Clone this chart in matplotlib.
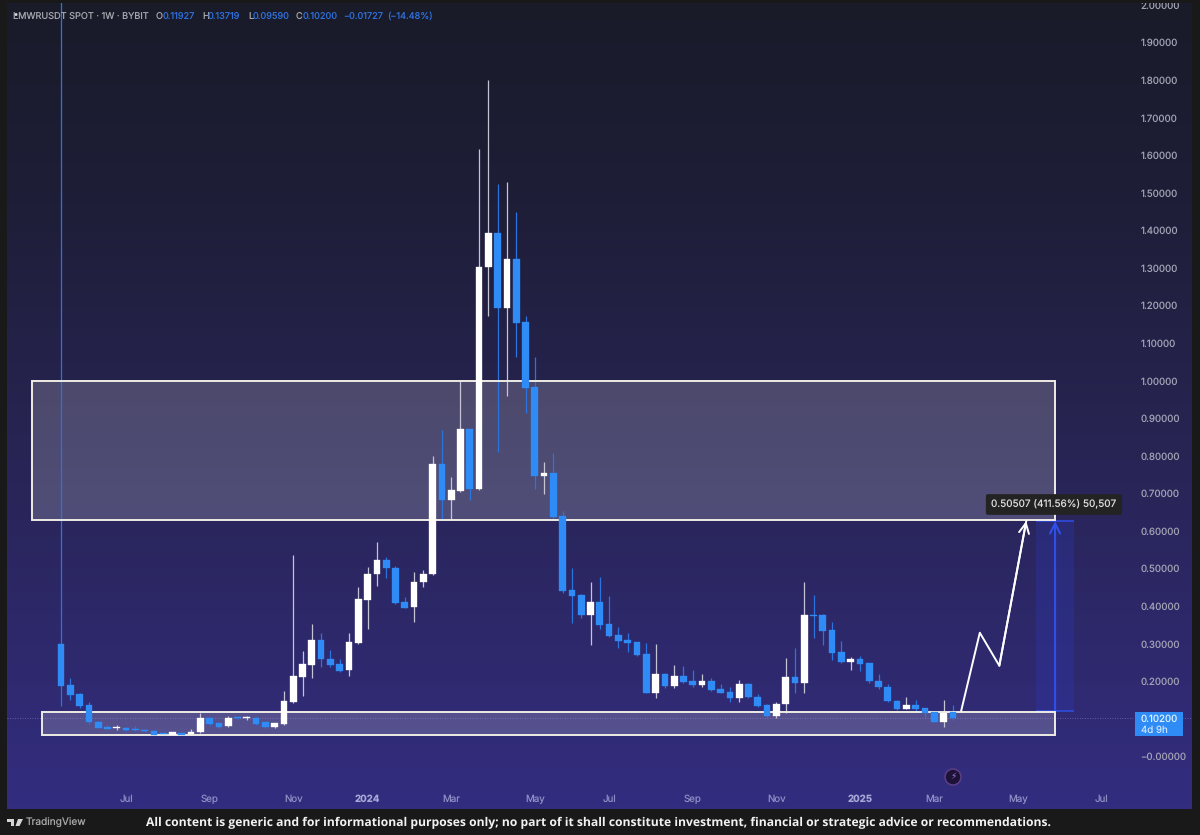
import numpy as np
import matplotlib
matplotlib.use('Agg')
import matplotlib.pyplot as plt
from matplotlib.colors import LinearSegmentedColormap
from matplotlib.patches import Rectangle, Circle, Polygon
from matplotlib.transforms import IdentityTransform

# weekly candles, one per week starting at index 0
opens = [.300, .190, .166, .138, .093, .079, .076, .076, .074, .070, .069, .062, .058, .062, .059, .064,
         .1025, .088, .080, .104, .102, .103, .091, .0785, .0865, .145, .2125, .244, .310, .260, .246, .230,
         .303, .4166, .485, .523, .5026, .412, .397, .4637, .485, .7786, .683, .7067, .8717, .712, 1.302, 1.3934,
         1.1946, 1.325, 1.157, .9835, .7474, .7554, .641, .4432, .4307, .3766, .411, .352, .3226, .310,
         .304, .2728, .170, .2196, .1877, .215, .200, .190, .200, .180, .171, .155, .192, .158,
         .137, .108, .140, .2124, .195, .3766, .3766, .3367, .277, .2523, .2587, .248, .2018, .1858, .1485, .127,
         .136, .128, .119, .0926, .11927]
highs = [2.1, .209, .168, .145, .094, .085, .083, .078, .081, .072, .070, .063, .066, .063, .073, .115,
         .105, .090, .108, .105, .109, .105, .092, .090, .174, .536, .2816, .3535, .3296, .283, .260, .328,
         .450, .505, .572, .532, .508, .425, .490, .496, .80, .869, .743, 1.0, .873, 1.616, 1.80, 1.523,
         1.53, 1.45, 1.1725, 1.0625, .7847, .807, .6534, .501, .432, .465, .4786, .428, .3455, .328,
         .305, .301, .2994, .221, .2427, .2417, .230, .2196, .208, .193, .184, .203, .196, .166,
         .139, .146, .2614, .29, .465, .43, .378, .357, .308, .264, .268, .250, .2187, .192, .150, .158,
         .150, .130, .120, .15, .13719]
lows = [.134, .150, .130, .086, .075, .073, .071, .069, .068, .066, .056, .058, .056, .057, .057, .062,
        .085, .077, .078, .100, .098, .085, .076, .077, .085, .143, .161, .209, .239, .239, .225, .214,
        .300, .339, .4547, .474, .407, .394, .359, .452, .483, .63, .63, .705, .683, .710, 1.1725, .81,
        .96, 1.064, .9135, .711, .6987, .63, .436, .356, .370, .296, .3385, .318, .288, .279,
        .267, .168, .155, .183, .183, .195, .184, .186, .175, .168, .146, .146, .156, .133,
        .106, .1017, .115, .168, .17, .3146, .2968, .257, .250, .23, .228, .197, .179, .145, .125, .126,
        .122, .104, .091, .079, .0959]
closes = [.188, .163, .135, .091, .076, .074, .078, .070, .070, .068, .058, .059, .0645, .058, .066, .103,
          .0865, .079, .103, .102, .104, .087, .0785, .089, .147, .215, .246, .310, .2587, .244, .228, .305,
          .418, .4866, .523, .501, .4094, .396, .4653, .486, .7786, .683, .7086, .8717, .712, 1.3037, 1.3934, 1.1946,
          1.325, 1.1547, .9817, .7474, .7554, .6383, .4405, .428, .3766, .411, .350, .3207, .308, .301,
          .270, .170, .2196, .1877, .215, .198, .190, .200, .177, .170, .155, .192, .1575, .135,
          .108, .140, .2124, .195, .3766, .373, .335, .2763, .2523, .2587, .246, .201, .184, .1477, .127, .136,
          .126, .1166, .0926, .1166, .102]

y_ticks = [0, .2, .3, .4, .5, .6, .7, .8, .9, 1.0, 1.1, 1.2, 1.3, 1.4, 1.5, 1.6, 1.7, 1.8, 1.9, 2.0]
y_labels = ['\u22120.00000', '0.20000', '0.30000', '0.40000', '0.50000', '0.60000', '0.70000', '0.80000',
            '0.90000', '1.00000', '1.10000', '1.20000', '1.30000', '1.40000', '1.50000', '1.60000',
            '1.70000', '1.80000', '1.90000', '2.00000']
x_ticks = [7, 16, 25, 33, 42, 51, 59, 68, 77, 86, 94, 103, 112]
x_labels = ['Jul', 'Sep', 'Nov', '2024', 'Mar', 'May', 'Jul', 'Sep', 'Nov', '2025', 'Mar', 'May', 'Jul']

# drawings on the chart
zone_top = [-3.12, 107.0, .63, 1.0]
zone_bottom = [-2.05, 107.0, .0575, .119]
path_x = [96.9, 98.9, 101.0, 103.9]
path_y = [.122, .3295, .2417, .6267]
measure_x = [104.95, 107.0, 109.04]
measure_y = [.1215, .6267]
last_price = .102

BLUE = '#2f8cf6'
WHITE = '#ffffff'
CHROME = '#191919'

plt.rcParams['font.family'] = ['Inter', 'DejaVu Sans']
plt.rcParams['text.hinting'] = 'no_hinting'

fig = plt.figure(figsize=(12, 8.35), dpi=100, facecolor=CHROME)
ax = fig.add_axes([7 / 1200, 1 - 809 / 835, 1185 / 1200, 806 / 835])
ax.set_xlim(-5.813, 121.74)
ax.set_ylim(-.1397, 2.0056)

# background gradient
cmap = LinearSegmentedColormap.from_list('bg', [(0, '#191b29'), (.25, '#1e1e38'), (.6, '#292558'), (1, '#332d80')])
ax.imshow(np.linspace(0, 1, 256).reshape(-1, 1), cmap=cmap, aspect='auto', zorder=0,
          extent=[-5.813, 121.74, -.1397, 2.0056])

# zones fill
for z in (zone_top, zone_bottom):
    ax.add_patch(Rectangle((z[0], z[2]), z[1] - z[0], z[3] - z[2], fc='#ffffff', alpha=.18, ec='none', zorder=1))

# measure tool
ax.add_patch(Rectangle((measure_x[0], measure_y[0]), measure_x[2] - measure_x[0], measure_y[1] - measure_y[0],
                       fc='#2b3fd8', alpha=.22, ec='none', zorder=1))
ax.hlines(measure_y, measure_x[0], measure_x[2], color='#2f4fe8', lw=1.1, zorder=2)
ax.annotate('', xy=(measure_x[1], measure_y[1]), xytext=(measure_x[1], measure_y[0]), zorder=2,
            arrowprops=dict(arrowstyle='->', color='#2f4fe8', lw=1.5, mutation_scale=18, shrinkA=0, shrinkB=0))

# last price line
ax.axhline(last_price, color='#8f8fc8', lw=.6, ls=(0, (1, 2)), alpha=.7, zorder=1)

# candles
o = np.array(opens)
h = np.array(highs)
l = np.array(lows)
c = np.array(closes)
idx = np.arange(len(o))
up = c >= o
ax.vlines(idx[up], l[up], h[up], color='#c4c4d4', lw=.9, zorder=2)
ax.vlines(idx[~up], l[~up], h[~up], color='#2b74e0', lw=.9, zorder=2)

for z in (zone_top, zone_bottom):
    ax.add_patch(Rectangle((z[0], z[2]), z[1] - z[0], z[3] - z[2], fc='none', ec='#eeece4', lw=1.4, zorder=3))

ax.bar(idx[up], (c - o)[up], bottom=o[up], width=.72, color=WHITE, ec=WHITE, lw=.25, zorder=4)
ax.bar(idx[~up], (o - c)[~up], bottom=c[~up], width=.72, color=BLUE, ec=BLUE, lw=.25, zorder=4)

# hand drawn path
ax.plot(path_x, path_y, color=WHITE, lw=1.4, zorder=5)
ax.annotate('', xy=(path_x[-1], path_y[-1]), xytext=(path_x[-2], path_y[-2]), zorder=5,
            arrowprops=dict(arrowstyle='->', color=WHITE, lw=1.4, mutation_scale=18, shrinkA=0, shrinkB=0))

# axes
for s in ax.spines.values():
    s.set_visible(False)
ax.yaxis.tick_right()
ax.set_yticks(y_ticks)
ax.set_yticklabels(y_labels)
ax.tick_params(axis='y', right=False, pad=-40.5, labelsize=7, labelcolor='#a2a2b4')
ax.set_xticks(x_ticks)
ax.set_xticklabels(x_labels)
ax.tick_params(axis='x', bottom=False, pad=-14, labelsize=7, labelcolor='#8f8cc4')
for lab in ax.get_xticklabels():
    if lab.get_text() in ('2024', '2025'):
        lab.set_fontweight('bold')
        lab.set_color('#a9a7d6')
for lab in ax.get_yticklabels():
    lab.set_clip_box(ax.bbox)
    lab.set_clip_on(True)


def fx(x):
    return x / 1200


def fy(y):
    return 1 - y / 835


# header legend
grey = '#a4a4ac'
val = '#2f6fd8'
header = [(13, 'LMWRUSDT SPOT \u00b7 1W \u00b7 BYBIT', grey), (156, 'O', grey), (163, '0.11927', val),
          (202, 'H', grey), (208, '0.13719', val), (248, 'L', grey), (253, '0.09590', val),
          (296, 'C', grey), (303, '0.10200', val), (343, '\u22120.01727', val), (387, '(\u221214.48%)', val)]
for x, s, col in header:
    fig.text(fx(x), fy(16), s, color=col, fontsize=6.6, va='center', ha='left')

# tooltip of the measure tool
fig.text(fx(1054), fy(504.5), '0.50507 (411.56%) 50,507', color='#dcdcdc', fontsize=7.2, ha='center', va='center',
         zorder=6, bbox=dict(boxstyle='round,pad=0.55,rounding_size=0.2', fc='#232323', ec='none'))

# price tag
tag = Rectangle((1135, 835 - 736), 48, 24, fc='#2f8cf6', ec='none', transform=IdentityTransform(), zorder=6)
fig.add_artist(tag)
fig.text(fx(1141), fy(719), '0.10200', color='#dff0ff', fontsize=7, va='center', ha='left', zorder=7)
fig.text(fx(1141), fy(730), '4d 9h', color='#c8e2ff', fontsize=7, va='center', ha='left', zorder=7)

# lightning marker
fig.add_artist(Circle((953, 835 - 777), 8, fc='#1f1238', ec='#5c3f86', lw=1.1, transform=IdentityTransform(), zorder=6))
fig.text(fx(953), fy(777), '\u26a1', color='#a77bd8', fontsize=6.5, ha='center', va='center',
         family='DejaVu Sans', zorder=7)

# tradingview mark
logo = '#d4d4d4'
for pts in ([(7, 819), (14, 819), (14, 826), (11, 826), (11, 822), (7, 822)],
            [(18, 819), (23, 819), (19.5, 826), (15.5, 826)]):
    fig.add_artist(Polygon([(x, 835 - y) for x, y in pts], fc=logo, ec='none', transform=IdentityTransform()))
fig.add_artist(Circle((16, 820.5), 1.5, fc=logo, ec='none', transform=IdentityTransform()))
fig.text(fx(26), fy(823), 'TradingView', color='#a8a8a8', fontsize=7.3, va='center', ha='left')

# disclaimer
fig.text(fx(146), fy(823), 'All content is generic and for informational purposes only; no part of it shall constitute '
         'investment, financial or strategic advice or recommendations.',
         color='#f2f2f2', fontsize=8.78, fontweight='bold', va='center', ha='left', family='Open Sans')

fig.savefig('out.png', dpi=100, facecolor=CHROME)
